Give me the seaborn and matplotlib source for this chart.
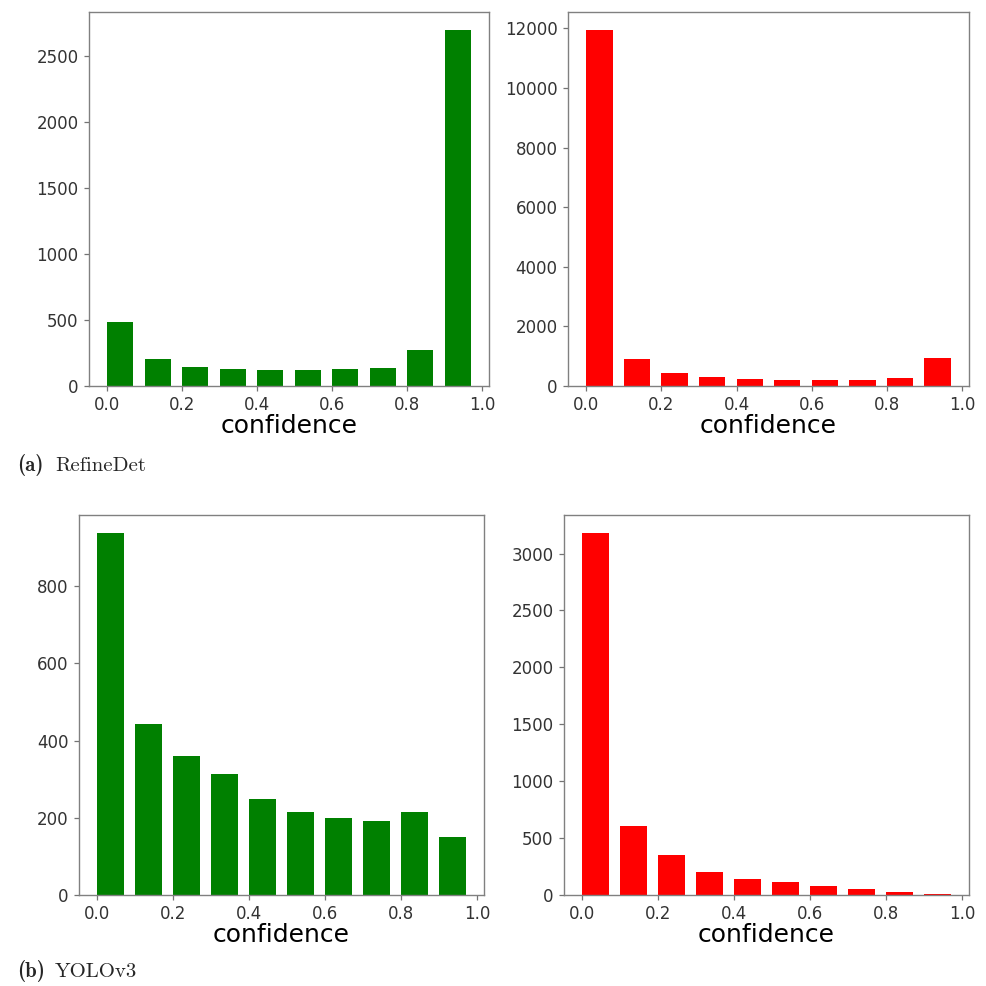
import numpy as np
import matplotlib
matplotlib.use("Agg")
import matplotlib.pyplot as plt
import seaborn as sns

sns.set_theme(style="ticks")
plt.rcParams["font.family"] = ["DejaVu Sans"]

# confidence bins (left edges), bar width 0.07 within each 0.1 bin
bin_lefts = [0.0, 0.1, 0.2, 0.3, 0.4, 0.5, 0.6, 0.7, 0.8, 0.9]
bar_width = 0.07

# (a) RefineDet
refinedet_green = [484, 202, 141, 126, 118, 118, 126, 134, 275, 2700]
refinedet_red = [11950, 890, 425, 300, 235, 200, 200, 200, 268, 950]

# (b) YOLOv3
yolo_green = [938, 444, 360, 313, 248, 215, 200, 192, 215, 150]
yolo_red = [3180, 606, 351, 205, 143, 117, 82, 56, 29, 12]

fig = plt.figure(figsize=(9.87, 9.86), dpi=100)

panels = [
    (refinedet_green, "green", [0.0902, 0.6085, 0.4053, 0.3793]),
    (refinedet_red, "red", [0.5755, 0.6085, 0.4063, 0.3793]),
    (yolo_green, "green", [0.0800, 0.0923, 0.4103, 0.3854]),
    (yolo_red, "red", [0.5714, 0.0923, 0.4103, 0.3854]),
]

for counts, color, rect in panels:
    ax = fig.add_axes(rect)
    ax.bar(bin_lefts, counts, width=bar_width, align="edge", color=color,
           edgecolor="none")
    ax.set_xticks([0.0, 0.2, 0.4, 0.6, 0.8, 1.0])
    ax.set_xlabel("confidence", fontsize=18, color="black", labelpad=0)
    ax.tick_params(labelsize=12, length=3.5, width=0.9, pad=4,
                   colors="0.45", labelcolor="0.2")
    for s in ax.spines.values():
        s.set_color("0.5")
        s.set_linewidth(1.0)

# sub-figure captions
fig.text(0.017, 1 - 471 / 986, "(a)", fontname="cmb10", fontsize=15, va="baseline")
fig.text(0.0557, 1 - 471 / 986, "RefineDet", fontname="cmr10", fontsize=15, va="baseline")
fig.text(0.017, 1 - 977 / 986, "(b)", fontname="cmb10", fontsize=15, va="baseline")
fig.text(0.0557, 1 - 977 / 986, "YOLOv3", fontname="cmr10", fontsize=15, va="baseline")

fig.savefig("out.png", dpi=100)
